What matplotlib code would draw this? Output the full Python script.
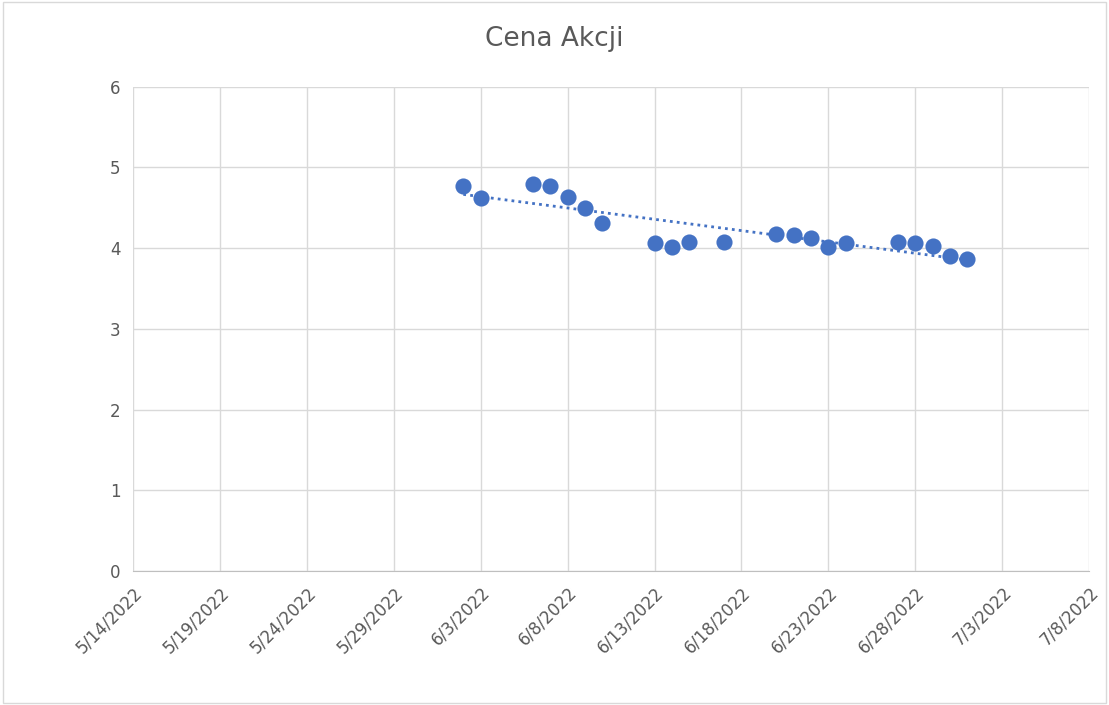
import datetime as dt
import numpy as np
import matplotlib
matplotlib.use("Agg")
import matplotlib.pyplot as plt
import matplotlib.dates as mdates
from matplotlib.patches import Rectangle

dates = ["2022-06-02", "2022-06-03", "2022-06-06", "2022-06-07", "2022-06-08",
         "2022-06-09", "2022-06-10", "2022-06-13", "2022-06-14", "2022-06-15",
         "2022-06-17", "2022-06-20", "2022-06-21", "2022-06-22", "2022-06-23",
         "2022-06-24", "2022-06-27", "2022-06-28", "2022-06-29", "2022-06-30",
         "2022-07-01"]
prices = [4.77, 4.62, 4.80, 4.77, 4.63, 4.50, 4.31, 4.06, 4.01, 4.08,
          4.08, 4.17, 4.16, 4.13, 4.01, 4.06, 4.08, 4.06, 4.03, 3.90, 3.87]

x = mdates.date2num([dt.datetime.strptime(d, "%Y-%m-%d") for d in dates])
y = np.array(prices)

fig = plt.figure(figsize=(11.09, 7.05), dpi=100)
fig.patches.append(Rectangle((0.003, 0.003), 0.994, 0.994, transform=fig.transFigure,
                             fill=False, edgecolor="#d9d9d9", linewidth=1))
ax = fig.add_axes([0.12, 0.19, 0.862, 0.687])

blue = "#4472c4"
ax.scatter(x, y, s=135, color=blue, zorder=3, linewidths=0)

# linear trendline
k, b = np.polyfit(x, y, 1)
xt = np.array([x.min(), x.max()])
ax.plot(xt, k * xt + b, color=blue, linestyle=(0, (1, 1.5)), linewidth=2.0, zorder=2)

start = mdates.date2num(dt.datetime(2022, 5, 14))
end = mdates.date2num(dt.datetime(2022, 7, 8))
ax.set_xlim(start, end)
ax.set_ylim(0, 6)
ax.set_xticks(np.arange(start, end + 0.5, 5))
ax.xaxis.set_major_formatter(plt.FuncFormatter(
    lambda v, p: "{d.month}/{d.day}/{d.year}".format(d=mdates.num2date(v))))
ax.set_yticks(range(0, 7))

ax.grid(True, color="#d9d9d9", linewidth=1)
ax.set_axisbelow(True)
for s in ["top", "right", "left"]:
    ax.spines[s].set_visible(False)
ax.spines["bottom"].set_color("#bfbfbf")
ax.tick_params(length=0, colors="#595959", labelsize=12, pad=9)
for lbl in ax.get_xticklabels():
    lbl.set_rotation(45)
    lbl.set_ha("right")
    lbl.set_rotation_mode("anchor")

fig.text(0.5, 0.945, "Cena Akcji", ha="center", va="center", fontsize=19, color="#595959")

fig.savefig("out.png", dpi=100)
